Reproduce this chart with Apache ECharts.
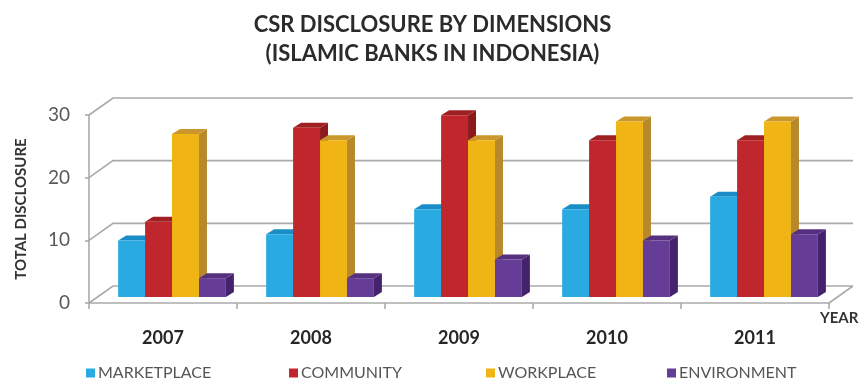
<!DOCTYPE html>
<html>
<head>
<meta charset="utf-8">
<script src="https://cdn.jsdelivr.net/npm/echarts@6/dist/echarts.min.js"></script>
<style>
html,body{margin:0;padding:0;background:#fff;}
#chart{width:865px;height:381px;}
</style>
</head>
<body>
<div id="chart"></div>
<script>
// ---- data ----
const years = ['2007', '2008', '2009', '2010', '2011'];
const marketplace = [9, 10, 14, 14, 16];
const community = [12, 27, 29, 25, 25];
const workplace = [26, 25, 25, 28, 28];
const environment = [3, 3, 6, 9, 10];
const yTicks = [0, 10, 20, 30];
const seriesNames = ['MARKETPLACE', 'COMMUNITY', 'WORKPLACE', 'ENVIRONMENT'];

// ---- styling ----
const FONT = 'Lato, "Open Sans", sans-serif';
const palette = [
  { front: '#29abe2', side: '#1a7fb3', top: '#1a8cc6' },
  { front: '#c0272d', side: '#8b1a1d', top: '#9e2023' },
  { front: '#f0b414', side: '#b8892a', top: '#c9972b' },
  { front: '#663d96', side: '#44226e', top: '#55307f' }
];
const WALL_DX = 24, WALL_DY = -17;   // depth of the back wall
const BAR_DX = 8, BAR_DY = -5;       // depth of each bar
const BAR_SHIFT_X = 0.061, BAR_SHIFT_Y = -6;
const BAR_W = 0.182;
const gridColor = '#aaaaaa';

const seriesValues = [marketplace, community, workplace, environment];

function wallRender(params, api) {
  const cs = params.coordSys;
  const v = api.value(1);
  const y = api.coord([0, v])[1];
  const x0 = cs.x, x1 = cs.x + cs.width;
  const children = [{
    type: 'polyline',
    shape: { points: [[x0, y], [x0 + WALL_DX, y + WALL_DY], [x1 + WALL_DX, y + WALL_DY]] },
    style: { stroke: gridColor, lineWidth: 1.6, fill: null }
  }];
  if (v === 0) {
    children.push({
      type: 'line',
      shape: { x1: x1, y1: y, x2: x1 + WALL_DX, y2: y + WALL_DY },
      style: { stroke: gridColor, lineWidth: 1.6 }
    });
  }
  return { type: 'group', children: children };
}

function makeBarRender(si) {
  const c = palette[si];
  return function (params, api) {
    const idx = api.value(0), v = api.value(1);
    const top = api.coord([idx, v]);
    const base = api.coord([idx, 0]);
    const band = api.size([1, 0])[0];
    const bw = band * BAR_W;
    const x0 = top[0] + band * BAR_SHIFT_X - 2 * bw + si * bw;
    const x1 = x0 + bw;
    const yb = base[1] + BAR_SHIFT_Y;
    const yt = top[1] + BAR_SHIFT_Y;
    return {
      type: 'group',
      children: [
        { type: 'polygon', shape: { points: [[x1, yb], [x1, yt], [x1 + BAR_DX, yt + BAR_DY], [x1 + BAR_DX, yb + BAR_DY]] }, style: { fill: c.side } },
        { type: 'polygon', shape: { points: [[x0, yt], [x1, yt], [x1 + BAR_DX, yt + BAR_DY], [x0 + BAR_DX, yt + BAR_DY]] }, style: { fill: c.top } },
        { type: 'rect', shape: { x: x0, y: yt, width: bw, height: yb - yt }, style: { fill: c.front } }
      ]
    };
  };
}

const series = [{
  type: 'custom',
  name: 'wall',
  silent: true,
  z: 1,
  renderItem: wallRender,
  data: yTicks.map(t => [0, t])
}];
seriesNames.forEach((name, si) => {
  series.push({
    type: 'custom',
    name: name,
    z: 2,
    itemStyle: { color: palette[si].front },
    renderItem: makeBarRender(si),
    data: years.map((y, i) => [i, seriesValues[si][i]])
  });
});

const legendLefts = [86, 289, 486, 667];
const legends = seriesNames.map((name, i) => ({
  data: [name],
  left: legendLefts[i],
  top: 365,
  icon: 'rect',
  itemWidth: 9,
  itemHeight: 9,
  itemGap: 0,
  padding: 0,
  selectedMode: false,
  textStyle: { fontFamily: FONT, fontSize: 16, color: '#555555', padding: [0, 0, 0, -2] }
}));

const chart = echarts.init(document.getElementById('chart'), null, { renderer: 'canvas' });
chart.setOption({
  animation: false,
  backgroundColor: '#ffffff',
  title: {
    text: 'CSR DISCLOSURE BY DIMENSIONS\n(ISLAMIC BANKS IN INDONESIA)',
    left: 'center',
    top: 5,
    textStyle: { fontFamily: FONT, fontSize: 22, fontWeight: 'bold', color: '#2b2b2b', lineHeight: 29 }
  },
  legend: legends,
  grid: { left: 89, right: 36, top: 115, bottom: 78, containLabel: false },
  xAxis: {
    type: 'category',
    data: years,
    boundaryGap: true,
    axisLine: { show: true, lineStyle: { color: gridColor, width: 1.6 } },
    axisTick: { show: true, length: 6, alignWithLabel: false, lineStyle: { color: gridColor, width: 1.6 } },
    axisLabel: { margin: 26, fontFamily: FONT, fontSize: 18, fontWeight: 'bold', color: '#262626' },
    splitLine: { show: false }
  },
  yAxis: {
    type: 'value',
    min: 0,
    max: 30,
    interval: 10,
    name: 'TOTAL DISCLOSURE',
    nameLocation: 'middle',
    nameRotate: 90,
    nameGap: 60,
    nameTextStyle: { fontFamily: FONT, fontSize: 15, fontWeight: 'bold', color: '#333333' },
    axisLine: { show: true, lineStyle: { color: gridColor, width: 1.6 } },
    axisTick: { show: true, length: 4, lineStyle: { color: gridColor, width: 1.6 } },
    axisLabel: { margin: 19, fontFamily: FONT, fontSize: 19, color: '#595959' },
    splitLine: { show: false }
  },
  graphic: [{
    type: 'text',
    left: 820,
    top: 311,
    style: { text: 'YEAR', font: 'bold 15px ' + FONT, fill: '#333333' }
  }],
  series: series
});
</script>
</body>
</html>
